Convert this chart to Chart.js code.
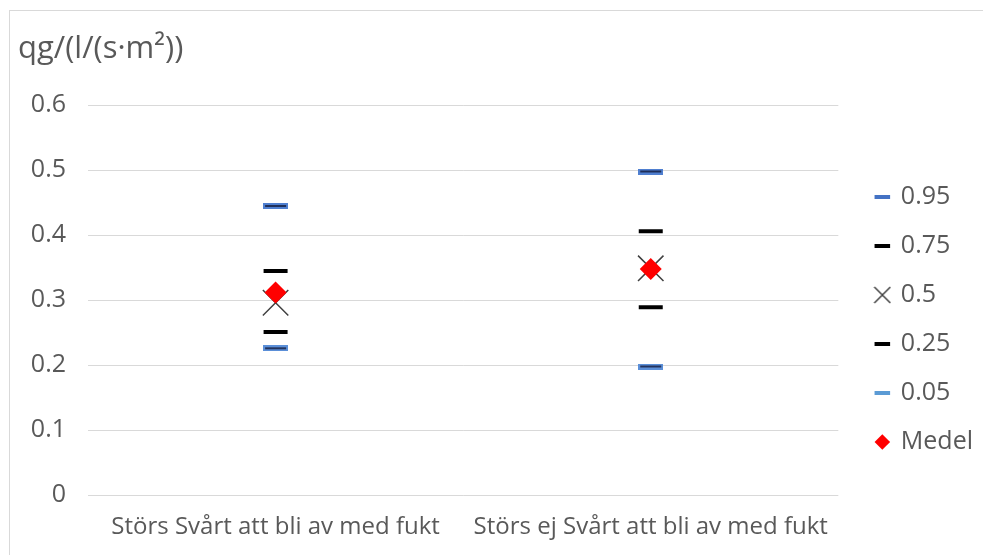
<!DOCTYPE html>
<html>
<head>
<meta charset="utf-8">
<script src="https://cdn.jsdelivr.net/npm/chart.js@4"></script>
<style>
  html, body { margin: 0; padding: 0; background: #fff; overflow: hidden; }
  #wrap {
    position: absolute; left: 9px; top: 10px; width: 974px; height: 561px;
    border-left: 1px solid #d9d9d9; border-top: 1px solid #d9d9d9;
  }
</style>
</head>
<body>
<div id="wrap"><canvas id="myChart"></canvas></div>
<script>
// categories + percentile values
const categories = ["Störs Svårt att bli av med fukt", "Störs ej Svårt att bli av med fukt"];
const p95 = [0.445, 0.498];
const p75 = [0.345, 0.406];
const p50 = [0.296, 0.349];
const p25 = [0.251, 0.289];
const p05 = [0.226, 0.198];
const medel = [0.312, 0.348];
const yTicks = [0, 0.1, 0.2, 0.3, 0.4, 0.5, 0.6];

const grey = "#595959";
const font = "'Open Sans', 'Noto Sans', sans-serif";

// blue dash with dark centre, like the excel marker
function dashImg(outer, inner) {
  const c = document.createElement("canvas");
  c.width = 25; c.height = 6;
  const g = c.getContext("2d");
  g.fillStyle = outer;
  g.fillRect(0, 0, 25, 6);
  g.fillStyle = inner;
  g.fillRect(2, 2, 21, 2);
  return c;
}

// bigger x for the legend
function crossImg() {
  const c = document.createElement("canvas");
  c.width = 18; c.height = 18;
  const g = c.getContext("2d");
  g.strokeStyle = "#404040";
  g.lineWidth = 1.5;
  g.beginPath();
  g.moveTo(1, 1); g.lineTo(17, 17);
  g.moveTo(17, 1); g.lineTo(1, 17);
  g.stroke();
  return c;
}
const legendCross = crossImg();

function dash(label, data, colour, img) {
  return {
    label: label,
    data: data,
    showLine: false,
    pointStyle: img || "line",
    pointRadius: 12,
    pointHoverRadius: 12,
    pointBorderWidth: 4,
    pointHoverBorderWidth: 4,
    borderColor: colour,
    backgroundColor: colour
  };
}

new Chart("myChart", {
  type: "line",
  data: {
    labels: categories,
    datasets: [
      dash("0.95", p95, "#4472C4", dashImg("#4F7FD0", "#1F2F5A")),
      dash("0.75", p75, "#000000"),
      {
        label: "0.5",
        data: p50,
        showLine: false,
        pointStyle: "crossRot",
        pointRadius: 18,
        pointHoverRadius: 18,
        pointBorderWidth: 1.5,
        borderColor: "#404040",
        backgroundColor: "#404040"
      },
      dash("0.25", p25, "#000000"),
      dash("0.05", p05, "#5B9BD5", dashImg("#5B8FD8", "#23345E")),
      {
        label: "Medel",
        data: medel,
        order: -1,
        showLine: false,
        pointStyle: "rectRot",
        pointRadius: 11,
        pointHoverRadius: 11,
        pointBorderWidth: 0,
        borderColor: "#ff0000",
        backgroundColor: "#ff0000"
      }
    ]
  },
  options: {
    responsive: true,
    maintainAspectRatio: false,
    animation: false,
    layout: { padding: { left: 8, right: 1, bottom: 12 } },
    scales: {
      x: {
        offset: true,
        grid: { display: false, drawTicks: false },
        border: { display: false },
        ticks: { color: grey, font: { family: font, size: 24 }, padding: 18, maxRotation: 0 }
      },
      y: {
        min: 0,
        max: 0.6,
        afterBuildTicks: axis => { axis.ticks = yTicks.map(v => ({ value: v })); },
        afterFit: axis => { axis.width = 70; },
        grid: { color: "#d9d9d9", drawTicks: false },
        border: { display: false },
        ticks: { color: grey, font: { family: font, size: 25 }, padding: 22 }
      },
      // empty right axis, only to leave a gap before the legend
      gap: {
        display: true,
        position: "right",
        grid: { display: false, drawTicks: false },
        border: { display: false },
        ticks: { display: false },
        afterFit: axis => { axis.width = 14; }
      }
    },
    plugins: {
      title: {
        display: true,
        text: "qg/(l/(s·m²))",
        align: "start",
        color: grey,
        font: { family: font, size: 31, weight: "normal" },
        padding: { top: 20, bottom: 37 }
      },
      legend: {
        position: "right",
        title: { display: true, text: " ", font: { size: 10 }, padding: { top: 28, bottom: 28 } },
        labels: {
          usePointStyle: true,
          boxWidth: 12,
          boxHeight: 11,
          color: grey,
          font: { family: font, size: 25 },
          padding: 24,
          sort: (a, b) => a.datasetIndex - b.datasetIndex,
          generateLabels: chart => {
            const items = Chart.defaults.plugins.legend.labels.generateLabels(chart);
            items.forEach(it => {
              if (it.pointStyle instanceof HTMLCanvasElement) {
                it.pointStyle = "line";
              } else if (it.pointStyle === "crossRot") {
                it.pointStyle = legendCross;
              }
            });
            return items;
          }
        }
      },
      tooltip: { enabled: false }
    }
  }
});
</script>
</body>
</html>
